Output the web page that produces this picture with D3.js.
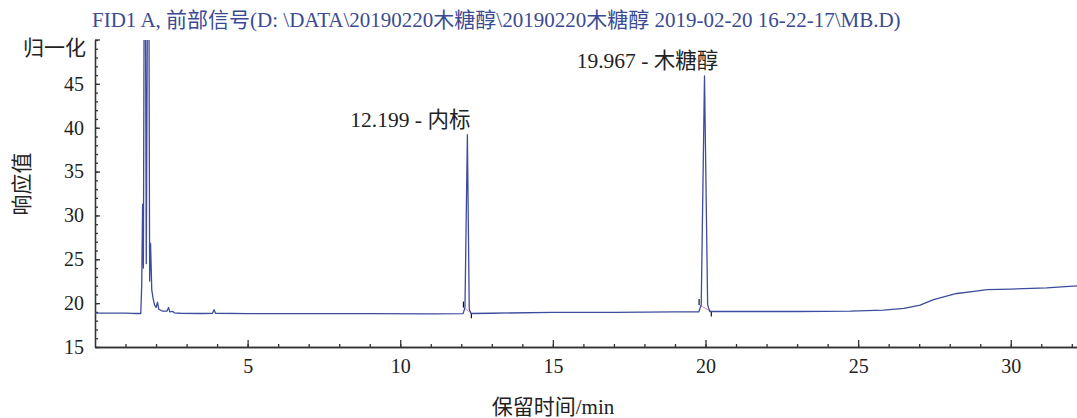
<!DOCTYPE html>
<html>
<head>
<meta charset="utf-8">
<script src="https://cdn.jsdelivr.net/npm/d3@7"></script>
<style>
    body { margin: 0; background: #fff; }
    svg text { font-family: "Liberation Serif", "Times New Roman", "Noto Sans CJK SC", serif; }
</style>
</head>
<body>
<div id="chart"></div>
<script>
// retention time (min) and detector signal
const traceTime = [
    0, 1.0, 1.2, 1.35, 1.5, 1.53, 1.56, 1.585, 1.63, 1.68, 1.75, 1.79, 1.82, 1.86, 1.9, 1.95,
    2.0, 2.05, 2.09, 2.2, 2.36, 2.41, 2.45, 2.55, 2.6, 2.8, 3.5, 3.85, 3.9, 3.95,
    5, 7, 9, 11, 12.06, 12.12, 12.199, 12.26, 12.32, 13, 15, 17, 19,
    19.78, 19.86, 19.967, 20.07, 20.14, 21, 23, 24.74, 25.83, 26.5, 27.03, 27.47,
    28.23, 28.8, 29.22, 30, 31.18, 32.17
]
const traceSignal = [
    18.86, 18.86, 18.84, 18.82, 18.82, 22, 31.3, 24.0, 80, 24.5, 80, 22.5, 26.8, 21.5, 20.6, 19.8,
    19.5, 20.1, 19.3, 19.1, 19.1, 19.5, 19.0, 19.05, 18.9, 18.85, 18.82, 18.85, 19.25, 18.85,
    18.8, 18.8, 18.8, 18.78, 18.8, 19.5, 39.2, 19.3, 18.82, 18.85, 18.95, 18.95, 19.0,
    19.02, 19.8, 45.9, 19.8, 19.05, 19.05, 19.05, 19.08, 19.2, 19.4, 19.77, 20.4,
    21.1, 21.35, 21.55, 21.6, 21.74, 21.97
]

// labelled peaks
const peakTime = [12.199, 19.967]
const peakHeight = [39.2, 45.9]
const peakName = ['内标', '木糖醇']

// integration start / end markers
const markStart = [12.07, 19.79]
const markEnd = [12.33, 20.19]

const xMajor = [5, 10, 15, 20, 25, 30]
const yMajor = [15, 20, 25, 30, 35, 40, 45]

const title = 'FID1 A, 前部信号(D: \\DATA\\20190220木糖醇\\20190220木糖醇 2019-02-20 16-22-17\\MB.D)'

const width = 1077, height = 418
const margin = {top: 40, right: 0, bottom: 71, left: 95}
const lineColor = '#3d4c9c'
const axisColor = '#333'

const svg = d3.select('#chart').append('svg')
    .attr('width', width)
    .attr('height', height)

const x = d3.scaleLinear()
    .domain([0, 32.17])
    .range([margin.left, width - margin.right])
const y = d3.scaleLinear()
    .domain([15, 50])
    .range([height - margin.bottom, margin.top])

svg.append('defs').append('clipPath')
    .attr('id', 'plotclip')
    .append('rect')
    .attr('x', margin.left)
    .attr('y', margin.top)
    .attr('width', width - margin.left - margin.right)
    .attr('height', height - margin.top - margin.bottom)

// title
svg.append('text')
    .attr('x', 92)
    .attr('y', 27)
    .attr('fill', '#3a4a93')
    .style('font-size', '21px')
    .text(title)

// minor ticks first, then major ticks with labels
const xMinor = d3.range(1, 33)
svg.append('g')
    .attr('transform', `translate(0,${y(15)})`)
    .call(d3.axisBottom(x).tickValues(xMinor).tickSize(-3).tickSizeOuter(0).tickFormat(''))
    .call(g => g.selectAll('line, path').attr('stroke', axisColor).attr('stroke-width', 1.3))
svg.append('g')
    .attr('transform', `translate(0,${y(15)})`)
    .call(d3.axisBottom(x).tickValues(xMajor).tickSize(-7).tickSizeOuter(0).tickPadding(12))
    .call(g => g.selectAll('line, path').attr('stroke', axisColor).attr('stroke-width', 1.3))
    .call(g => g.selectAll('text').attr('fill', '#222').style('font-size', '20px')
        .style('font-family', '"Liberation Serif", serif'))

const yMinor = d3.range(15, 51)
svg.append('g')
    .attr('transform', `translate(${x(0)},0)`)
    .call(d3.axisLeft(y).tickValues(yMinor).tickSize(-3).tickSizeOuter(0).tickFormat(''))
    .call(g => g.selectAll('line, path').attr('stroke', axisColor).attr('stroke-width', 1.3))
svg.append('g')
    .attr('transform', `translate(${x(0)},0)`)
    .call(d3.axisLeft(y).tickValues(yMajor).tickSize(-5).tickSizeOuter(0).tickPadding(11))
    .call(g => g.selectAll('line, path').attr('stroke', axisColor).attr('stroke-width', 1.3))
    .call(g => g.selectAll('text').attr('fill', '#222').style('font-size', '20px')
        .style('font-family', '"Liberation Serif", serif'))

// top of the y axis: small cap and the "归一化" tag
svg.append('line')
    .attr('x1', x(0)).attr('x2', x(0) + 5)
    .attr('y1', y(50)).attr('y2', y(50))
    .attr('stroke', axisColor).attr('stroke-width', 1.3)
svg.append('text')
    .attr('x', 86)
    .attr('y', y(50) + 15)
    .attr('text-anchor', 'end')
    .attr('fill', '#222')
    .style('font-size', '21px')
    .text('归一化')

// axis titles
svg.append('text')
    .attr('transform', `translate(29,184) rotate(-90)`)
    .attr('text-anchor', 'middle')
    .attr('fill', '#222')
    .style('font-size', '21px')
    .text('响应值')
svg.append('text')
    .attr('x', 553)
    .attr('y', 414)
    .attr('text-anchor', 'middle')
    .attr('fill', '#222')
    .style('font-size', '21px')
    .text('保留时间/min')

// integration baseline + markers
const plot = svg.append('g').attr('clip-path', 'url(#plotclip)')
const baseAt = t => traceSignal[d3.bisectLeft(traceTime, t)]
markStart.forEach((s, i) => {
    const e = markEnd[i]
    plot.append('line')
        .attr('x1', x(s)).attr('x2', x(e))
        .attr('y1', y(baseAt(s))).attr('y2', y(baseAt(e)))
        .attr('stroke', '#e08aa8').attr('stroke-width', 1)
    plot.append('line')
        .attr('x1', x(s)).attr('x2', x(s))
        .attr('y1', y(baseAt(s)) - 6).attr('y2', y(baseAt(s)))
        .attr('stroke', '#111').attr('stroke-width', 1.2)
    plot.append('line')
        .attr('x1', x(e)).attr('x2', x(e))
        .attr('y1', y(baseAt(e))).attr('y2', y(baseAt(e)) + 5)
        .attr('stroke', '#111').attr('stroke-width', 1.2)
})

// the chromatogram trace
const line = d3.line()
    .x(i => x(traceTime[i]))
    .y(i => y(traceSignal[i]))
plot.append('path')
    .attr('d', line(d3.range(traceTime.length)))
    .attr('fill', 'none')
    .attr('stroke', lineColor)
    .attr('stroke-width', 1.3)
    .attr('stroke-linejoin', 'round')

// peak labels
svg.selectAll('.peaklabel')
    .data(peakTime)
    .enter().append('text')
    .attr('class', 'peaklabel')
    .attr('x', d => x(d) - 57)
    .attr('y', (d, i) => y(peakHeight[i]) - 8)
    .attr('text-anchor', 'middle')
    .attr('fill', '#222')
    .style('font-size', '21.5px')
    .text((d, i) => `${d3.format('.3f')(d)} - ${peakName[i]}`)
</script>
</body>
</html>
